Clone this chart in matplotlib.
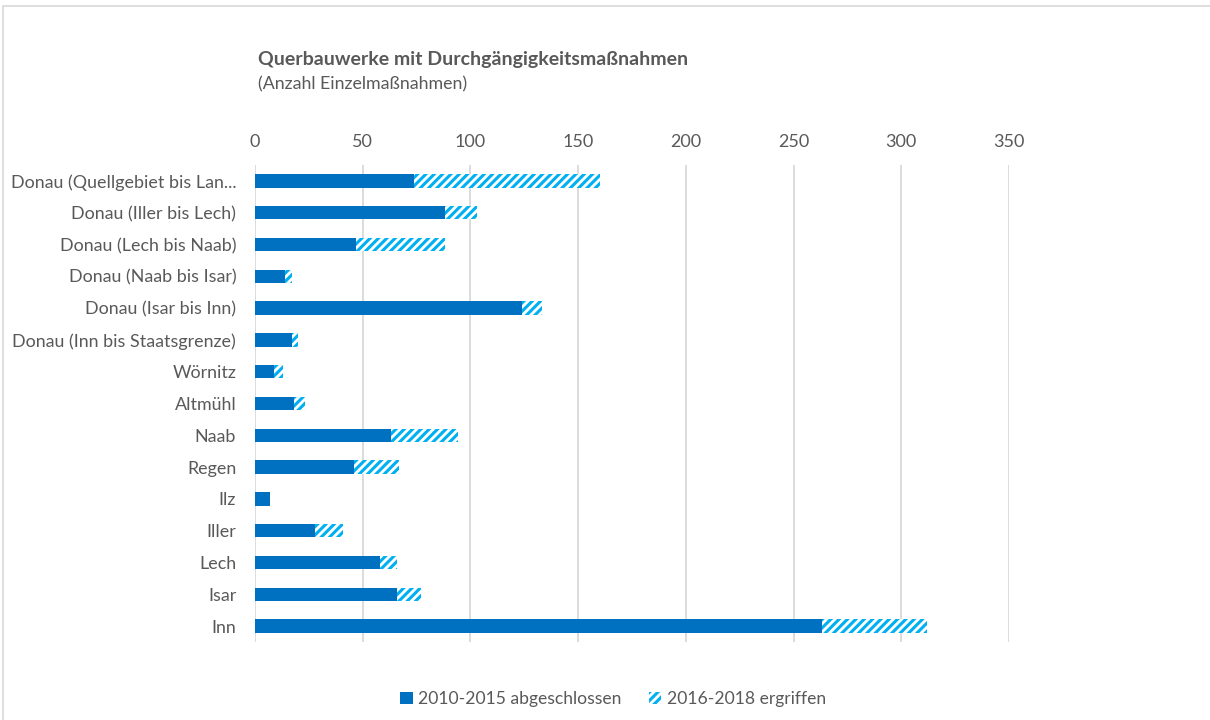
import matplotlib
matplotlib.use("Agg")
import matplotlib.pyplot as plt
from matplotlib.patches import Patch, Rectangle

categories = [
    "Donau (Quellgebiet bis Lan...",
    "Donau (Iller bis Lech)",
    "Donau (Lech bis Naab)",
    "Donau (Naab bis Isar)",
    "Donau (Isar bis Inn)",
    "Donau (Inn bis Staatsgrenze)",
    "Wörnitz",
    "Altmühl",
    "Naab",
    "Regen",
    "Ilz",
    "Iller",
    "Lech",
    "Isar",
    "Inn",
]
abgeschlossen = [74, 88, 47, 14, 124, 17, 9, 18, 63, 46, 7, 28, 58, 66, 263]
ergriffen = [86, 15, 41, 3, 9, 3, 4, 5, 31, 21, 0, 13, 8, 11, 49]
xticks = [0, 50, 100, 150, 200, 250, 300, 350]

series_names = ["2010-2015 abgeschlossen", "2016-2018 ergriffen"]
title = "Querbauwerke mit Durchgängigkeitsmaßnahmen"
subtitle = "(Anzahl Einzelmaßnahmen)"

plt.rcParams['font.family'] = ['Lato', 'DejaVu Sans']
plt.rcParams['hatch.linewidth'] = 2.2
TXT = '#595959'
DARK = '#0070C0'
LIGHT = '#00B0F0'

fig = plt.figure(figsize=(12.1, 7.2), dpi=100)
W, H = 1210, 720
ax = fig.add_axes([255 / W, 1 - 642 / H, (1009 - 255) / W, (642 - 165) / H])

y = list(range(len(categories)))
ax.barh(y, abgeschlossen, height=0.42, color=DARK, linewidth=0, zorder=3)
ax.barh(y, ergriffen, left=abgeschlossen, height=0.42, facecolor='white',
        edgecolor=LIGHT, hatch='////', linewidth=0, zorder=3)

ax.set_xlim(0, 350)
ax.set_ylim(len(categories) - 0.5, -0.5)
ax.set_yticks(y)
ax.set_yticklabels(categories, fontsize=12.9, color=TXT)
ax.set_xticks(xticks)
ax.set_xticklabels([str(v) for v in xticks], fontsize=13, color=TXT)
ax.xaxis.tick_top()
ax.tick_params(axis='both', length=0)
ax.tick_params(axis='x', pad=11)
ax.tick_params(axis='y', pad=13.5)
ax.grid(axis='x', color='#D9D9D9', linewidth=1.3, zorder=0)
for s in ax.spines.values():
    s.set_visible(False)

fig.text(258 / W, 1 - 60 / H, title, fontsize=14, fontweight='bold', color=TXT,
         va='center', ha='left')
fig.text(258 / W, 1 - 84 / H, subtitle, fontsize=12.8, color=TXT, va='center', ha='left')

handles = [Patch(facecolor=DARK, edgecolor=DARK, linewidth=0),
           Patch(facecolor='white', edgecolor=LIGHT, hatch='////', linewidth=0)]
fig.legend(handles, series_names, loc='center', bbox_to_anchor=(613 / W, 1 - 699 / H),
           ncol=2, frameon=False, fontsize=12.6, handlelength=0.7, handleheight=0.7,
           handletextpad=0.3, columnspacing=1.6, labelcolor=TXT)

fig.patches.append(Rectangle((3 / W, -0.05), 1.1, 1 - 6 / H + 0.05, transform=fig.transFigure,
                             fill=False, edgecolor='#D9D9D9', linewidth=1.2))

fig.savefig("out.png", dpi=100)
